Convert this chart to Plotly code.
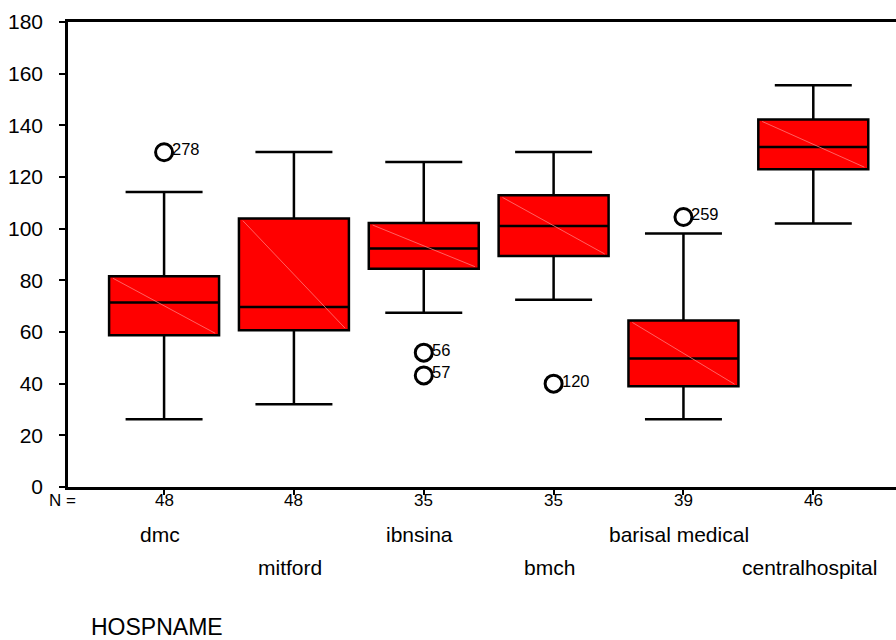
import plotly.graph_objects as go

# ---- data ----
hospitals = ["dmc", "mitford", "ibnsina", "bmch", "barisal medical", "centralhospital"]
counts = [48, 48, 35, 35, 39, 46]
q1 = [58.7, 60.7, 84.5, 89.4, 39.0, 123.0]
median = [71.4, 69.7, 92.3, 101.0, 49.7, 131.6]
q3 = [81.6, 103.9, 102.2, 112.9, 64.5, 142.3]
lower = [26.2, 32.0, 67.5, 72.5, 26.2, 102.0]
upper = [114.2, 129.7, 125.8, 129.7, 98.1, 155.5]

# outliers: (hospital index, value, case label)
out_idx = [0, 2, 2, 3, 4]
out_val = [129.6, 52.0, 43.2, 40.0, 104.5]
out_lab = ["278", "56", "57", "120", "259"]

yticks = [0, 20, 40, 60, 80, 100, 120, 140, 160, 180]

pos = list(range(len(hospitals)))
box_w = 0.847

FONT = "Arial, Liberation Sans, sans-serif"

fig = go.Figure()

fig.add_trace(go.Box(
    x=pos, q1=q1, median=median, q3=q3, lowerfence=lower, upperfence=upper,
    width=box_w, whiskerwidth=0.7, boxpoints=False,
    fillcolor="#ff0000", line=dict(color="black", width=2.5),
    showlegend=False, hoverinfo="skip",
))

# faint diagonal inside each box (rendering artefact of the original)
dx, dy = [], []
for p, a, b in zip(pos, q3, q1):
    dx += [p - box_w / 2 + 0.03, p + box_w / 2 - 0.03, None]
    dy += [a - 0.8, b + 0.8, None]
fig.add_trace(go.Scatter(x=dx, y=dy, mode="lines",
                         line=dict(color="#ff7a7a", width=0.8),
                         showlegend=False, hoverinfo="skip"))

fig.add_trace(go.Scatter(
    x=[pos[i] for i in out_idx], y=out_val, mode="markers",
    marker=dict(symbol="circle-open", size=17, color="black",
                line=dict(width=3, color="black")),
    showlegend=False, hoverinfo="skip",
))

ann = []
for i, v, t in zip(out_idx, out_val, out_lab):
    ann.append(dict(x=pos[i], y=v, xref="x", yref="y", text=t, showarrow=False,
                    xanchor="left", yanchor="middle", xshift=6, yshift=3,
                    font=dict(family=FONT, size=16.5, color="black")))

# N counts under each tick
for p, c in zip(pos, counts):
    ann.append(dict(x=p, y=0, xref="x", yref="paper", text=str(c), showarrow=False,
                    xanchor="center", yanchor="middle", yshift=-13.5,
                    font=dict(family=FONT, size=17, color="black")))

for k, (p, name) in enumerate(zip(pos, hospitals)):
    ann.append(dict(x=p, y=0, xref="x", yref="paper", text=name, showarrow=False,
                    xanchor="center", yanchor="middle", xshift=-4,
                    yshift=-47 if k % 2 == 0 else -80,
                    font=dict(family=FONT, size=21, color="black")))

ann.append(dict(x=0, y=0, xref="paper", yref="paper", text="N =", showarrow=False,
                xanchor="right", yanchor="middle", xshift=10, yshift=-13.5,
                font=dict(family=FONT, size=17, color="black")))
ann.append(dict(x=0, y=0, xref="paper", yref="paper", text="HOSPNAME", showarrow=False,
                xanchor="center", yanchor="middle", xshift=89, yshift=-140,
                font=dict(family=FONT, size=23, color="black")))

fig.update_layout(
    width=896, height=640,
    margin=dict(l=68, r=0, t=22, b=153),
    paper_bgcolor="white", plot_bgcolor="white",
    font=dict(family=FONT, color="black"),
    annotations=ann,
    showlegend=False,
)

fig.update_xaxes(
    range=[-0.74, 5.637], tickvals=pos, ticktext=["" for _ in pos],
    showline=True, mirror=True, linecolor="black", linewidth=2.5,
    ticks="outside", ticklen=5, tickwidth=2, tickcolor="black",
    showgrid=False, zeroline=False,
)
fig.update_yaxes(
    range=[0, 180], tickvals=yticks, ticktext=[str(v) for v in yticks],
    showline=True, linecolor="black", linewidth=2.5,
    ticks="outside", ticklen=6, tickwidth=2, tickcolor="black",
    ticklabelstandoff=12,
    showgrid=False, zeroline=False,
    tickfont=dict(family=FONT, size=21, color="black"),
)

fig.write_html("out.html",
               config={"displayModeBar": False},
               post_script="document.body.style.margin='0';"
                           "document.body.style.overflow='hidden';")
